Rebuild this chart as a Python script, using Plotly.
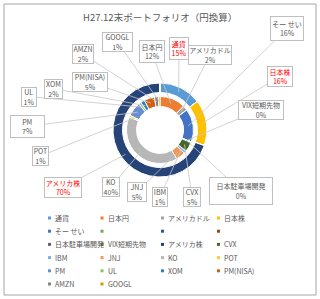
import math
import plotly.graph_objects as go

# ---------------- data ----------------
categories = ["通貨", "日本円", "アメリカドル", "日本株", "そー せい", " ", "  ", "   ",
              "日本駐車場開発", "VIX短期先物", "アメリカ株", "CVX", "IBM", "JNJ", "KO", "POT",
              "PM", "UL", "XOM", "PM(NISA)", "AMZN", "GOOGL"]
# outer ring (asset class), percent of total
outer_values = [14.6, 0, 0, 15.8, 0, 0, 0, 0, 0, 0, 69.6, 0, 0, 0, 0, 0, 0, 0, 0, 0, 0, 0]
# inner ring (individual holdings), percent of total
inner_values = [0, 12.4, 2.4, 0, 16.0, 0, 0, 0, 0.2, 0.1, 0, 4.8, 1.2, 4.6, 39.7, 0.9,
                6.9, 1.1, 2.0, 5.0, 1.9, 0.8]
title_text = "H27.12末ポートフォリオ（円換算）"

# ---------------- styles ----------------
colors = ["#5B9BD5", "#ED7D31", "#A5A5A5", "#FFC000", "#4472C4", "#70AD47", "#255E91",
          "#9E480E", "#636363", "#997300", "#264478", "#43682B", "#7CAFDD", "#F1975A",
          "#B7B7B7", "#FFCD33", "#698ED0", "#8CC168", "#327DC2", "#D26012", "#848484",
          "#CC9A00"]
highlight = {"通貨", "日本株", "アメリカ株"}
W, H = 320, 299
CX, CY = 160, 130
R_OUT, R_OUT_IN = 47, 37.5
R_IN, R_IN_IN = 33.5, 23.5
FONT = "Noto Sans CJK JP, Noto Sans, sans-serif"
TXT = "#595959"

# label box centre (px) and size (w,h)
label_boxes = {
    "GOOGL": (117.5, 42, 31, 18), "AMZN": (82.5, 54, 22, 18), "日本円": (151.5, 51.5, 26, 23),
    "通貨": (179, 48.5, 20, 23), "アメリカドル": (209.5, 55.5, 44, 19),
    "そー せい": (287, 28.5, 34, 25), "日本株": (280, 76.5, 26, 21),
    "VIX短期先物": (260.5, 109.5, 46, 19), "日本駐車場開発": (241, 191, 64, 28),
    "CVX": (192, 197, 18, 20), "IBM": (160, 197, 16, 20), "JNJ": (137, 192, 20, 20),
    "KO": (111, 187, 18, 20), "アメリカ株": (62.5, 187.5, 38, 21), "POT": (40.5, 156, 17, 20),
    "PM": (27.5, 126.5, 35, 23), "UL": (29, 96.5, 16, 19), "XOM": (53.5, 88.5, 19, 19),
    "PM(NISA)": (90, 82, 36, 18),
}


def dom(r):
    return dict(x=[(CX - r) / W, (CX + r) / W], y=[(H - CY - r) / H, (H - CY + r) / H])


fig = go.Figure()
fig.add_trace(go.Pie(labels=categories, values=outer_values, sort=False, direction="clockwise",
                     rotation=0, hole=R_OUT_IN / R_OUT, domain=dom(R_OUT),
                     marker=dict(colors=colors, line=dict(color="white", width=1)),
                     textinfo="none", showlegend=False, hoverinfo="label+percent"))
fig.add_trace(go.Pie(labels=categories, values=inner_values, sort=False, direction="clockwise",
                     rotation=0, hole=R_IN_IN / R_IN, domain=dom(R_IN),
                     marker=dict(colors=colors, line=dict(color="white", width=1)),
                     textinfo="none", showlegend=False, hoverinfo="label+percent"))

annotations = []


def add_labels(values, r_mid):
    total = sum(values)
    cum = 0.0
    for name, v in zip(categories, values):
        start = cum
        cum += v
        if v <= 0 or name not in label_boxes:
            continue
        mid = (start + v / 2) / total * 2 * math.pi
        px = CX + r_mid * math.sin(mid)
        py = CY - r_mid * math.cos(mid)
        lx, ly, bw, bh = label_boxes[name]
        pct = round(v / total * 100)
        col = "#FF0000" if name in highlight else TXT
        annotations.append(dict(
            x=px / W, y=1 - py / H, xref="paper", yref="paper",
            ax=lx - px, ay=ly - py, axref="pixel", ayref="pixel",
            text=f"{name}<br>{pct}%", showarrow=True, arrowhead=0, arrowwidth=0.8,
            arrowcolor="#C8C8C8", standoff=0, startstandoff=0,
            bordercolor="#BFBFBF", borderwidth=1, borderpad=0, bgcolor="white",
            width=bw - 2, height=max(bh - 2, 18), align="center", valign="middle",
            font=dict(family=FONT, size=7, color=col)))


add_labels(outer_values, (R_OUT + R_OUT_IN) / 2)
add_labels(inner_values, (R_IN + R_IN_IN) / 2)

# legend (4 columns grid) built from categories / colors
col_x = [49.5, 102, 162.5, 218.5]
row_y0, row_dy = 218, 13.2
shapes = [dict(type="rect", xref="paper", yref="paper", x0=4 / W, x1=316 / W,
               y0=1 - 295 / H, y1=1 - 4 / H, line=dict(color="#A6A6A6", width=1))]
for i, (name, c) in enumerate(zip(categories, colors)):
    mx = col_x[i % 4]
    my = row_y0 + (i // 4) * row_dy
    shapes.append(dict(type="rect", xref="paper", yref="paper",
                       x0=(mx - 1.5) / W, x1=(mx + 1.5) / W,
                       y0=1 - (my + 1.5) / H, y1=1 - (my - 1.5) / H,
                       line=dict(width=0), fillcolor=c))
    if name.strip():
        annotations.append(dict(x=(mx + 3.5) / W, y=1 - my / H, xref="paper", yref="paper",
                                text=name, showarrow=False, xanchor="left", yanchor="middle",
                                font=dict(family=FONT, size=7, color=TXT)))

annotations.append(dict(x=0.5, y=1 - 17 / H, xref="paper", yref="paper", text=title_text,
                        showarrow=False, xanchor="center", yanchor="middle",
                        font=dict(family=FONT, size=9.5, color=TXT)))

fig.update_layout(width=W, height=H, margin=dict(l=0, r=0, t=0, b=0),
                  paper_bgcolor="white", plot_bgcolor="white", showlegend=False,
                  annotations=annotations, shapes=shapes)
fig.write_html("out.html")
